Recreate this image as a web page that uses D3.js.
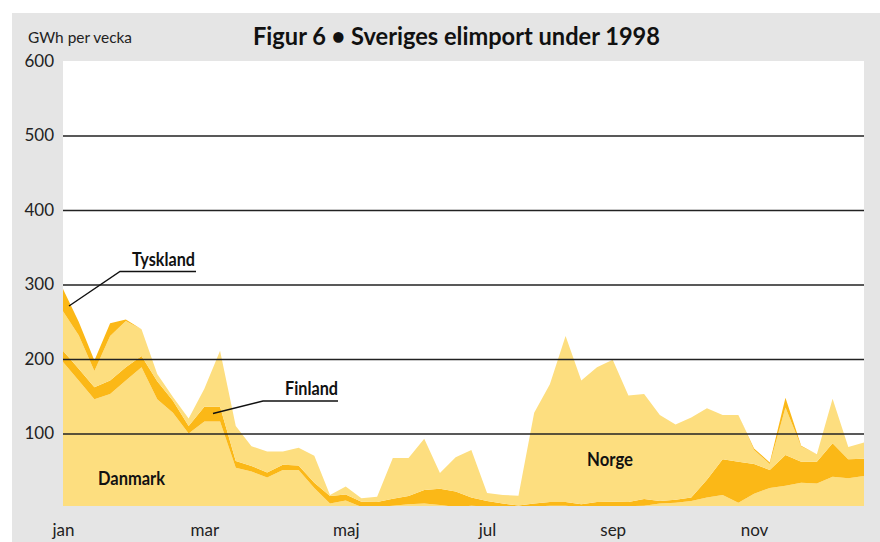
<!DOCTYPE html>
<html>
<head>
<meta charset="utf-8">
<script src="https://cdn.jsdelivr.net/npm/d3@7"></script>
<style>
  html, body { margin: 0; padding: 0; background: #ffffff; }
  svg { display: block; }
</style>
</head>
<body>
<svg id="chart" width="880" height="542"></svg>
<script>
// ---- data (GWh per week, 1998, weeks 1..52) ----
const weeks = d3.range(1, 53);
const danmark = [196,171,146,153,171,189,146,128,100,116,116,54,49,41,51,51,27,6,10,1.5,
                 1.5,3,5,6,4,1.5,3,2,2,1.5,2,3,3,1.5,2.5,2.5,2.5,3,6,7,
                 9.5,14,17.5,7,19,27,30,34,33,42,40,43];
const finland = [15,16,16,18,18,15,24,16,10,20,20,9,7.5,6.5,7,6,7,10,8,7,
                 6.5,9.5,11,18,22,20.5,11,7.5,4,2,4,5,5,3.5,5.5,6,5.5,9,3.5,4,
                 4.5,24,48,55,40,24,41,28,29,45,25.5,23];
const norge   = [53,45,22,60,62,36,10,5,10,24,75,47,26.5,28.5,18,24,36,1.5,11,4.5,
                 7,54.5,51,69,21,46,64,10.5,11.5,13,122,158,223,166,181,190.5,143,141,115.5,101,
                 107.5,96,59.5,63,19,8,64,20.5,10,59.5,16.5,22];
const tyskland = [30,18,14,17,2,0,0,0,0,0,0,0,0,0,0,0,0,0,0,0,
                  0,0,0,0,0,0,0,0,0,0,0,0,0,0,0,0,0,0,0,0,
                  0,0,0,0,2,2,13,1,0,0,0,0];
const countries = ["Danmark","Finland","Norge","Tyskland"];
const yTickValues = [100,200,300,400,500,600];
const gridValues = [100,200,300,400,500];
const monthLabels = ["jan","mar","maj","jul","sep","nov"];
const monthWeeks = [1,10,19,28,36,45];

const rows = weeks.map((w, i) => ({
  week: w, Danmark: danmark[i], Finland: finland[i], Norge: norge[i], Tyskland: tyskland[i]
}));

// ---- layout ----
const svg = d3.select("#chart");
const pL = 63, pR = 864, pT = 61, pB = 506;
const x = d3.scaleLinear().domain([1, 52]).range([pL, pR]);
const y = d3.scaleLinear().domain([0, 600]).range([508, pT]);

const LIGHT = "#fdde7f", DARK = "#fbb817";
const colors = { Danmark: LIGHT, Finland: DARK, Norge: LIGHT, Tyskland: DARK };
const FONT = "Lato, 'Open Sans', 'DejaVu Sans', sans-serif";

// background panel
svg.append("rect").attr("x", 12).attr("y", 13).attr("width", 868).attr("height", 529).attr("fill", "#e5e5e5");
svg.append("rect").attr("x", pL).attr("y", pT).attr("width", pR - pL).attr("height", pB - pT).attr("fill", "#ffffff");

svg.append("clipPath").attr("id", "plotclip")
  .append("rect").attr("x", pL).attr("y", pT).attr("width", pR - pL).attr("height", pB - pT);

// stacked areas
const stack = d3.stack().keys(countries);
const series = stack(rows);
const area = d3.area()
  .x(d => x(d.data.week))
  .y0(d => y(d[0]))
  .y1(d => y(d[1]));

svg.append("g").attr("clip-path", "url(#plotclip)")
  .selectAll("path").data(series).join("path")
  .attr("d", area)
  .attr("fill", d => colors[d.key]);

// gridlines on top
const grid = svg.append("g").attr("transform", `translate(${pL},0)`)
  .call(d3.axisLeft(y).tickValues(gridValues).tickSize(-(pR - pL)).tickFormat(""));
grid.select(".domain").remove();
grid.selectAll("line").attr("stroke", "#222").attr("stroke-width", 1.4);

// y labels
const yAxis = svg.append("g").attr("transform", `translate(${pL},0)`)
  .call(d3.axisLeft(y).tickValues(yTickValues).tickSize(0).tickPadding(9));
yAxis.select(".domain").remove();
yAxis.selectAll("text").attr("font-family", FONT).attr("font-size", 17).attr("fill", "#222");

// x labels
const xAxis = svg.append("g").attr("transform", `translate(0,${pB})`)
  .call(d3.axisBottom(x).tickValues(monthWeeks).tickSize(0).tickPadding(18)
        .tickFormat((d, i) => monthLabels[i]));
xAxis.select(".domain").remove();
xAxis.selectAll("text").attr("font-family", FONT).attr("font-size", 17).attr("fill", "#222");

// unit label
svg.append("text").attr("x", 28).attr("y", 43)
  .attr("font-family", FONT).attr("font-size", 16).attr("fill", "#222")
  .attr("textLength", 104).attr("lengthAdjust", "spacingAndGlyphs")
  .text("GWh per vecka");

// title
svg.append("text").attr("x", 253).attr("y", 45)
  .attr("font-family", FONT).attr("font-weight", 700).attr("font-size", 25).attr("fill", "#111")
  .attr("textLength", 407).attr("lengthAdjust", "spacingAndGlyphs")
  .text("Figur 6 • Sveriges elimport under 1998");

// series labels
function label(txt, lx, ly, w) {
  svg.append("text").attr("x", lx).attr("y", ly)
    .attr("font-family", FONT).attr("font-weight", 700).attr("font-size", 19).attr("fill", "#111")
    .attr("textLength", w).attr("lengthAdjust", "spacingAndGlyphs")
    .text(txt);
}
label("Tyskland", 132, 266, 63);
label("Finland", 285, 395, 53);
label("Danmark", 98, 485, 67);
label("Norge", 587, 466, 46);

// leader lines
const leader = d3.line();
svg.append("path").attr("d", leader([[196, 271.5], [120, 271.5], [69, 306]]))
  .attr("fill", "none").attr("stroke", "#111").attr("stroke-width", 1.4);
svg.append("path").attr("d", leader([[338, 401], [263, 401], [213, 413.5]]))
  .attr("fill", "none").attr("stroke", "#111").attr("stroke-width", 1.4);
</script>
</body>
</html>
